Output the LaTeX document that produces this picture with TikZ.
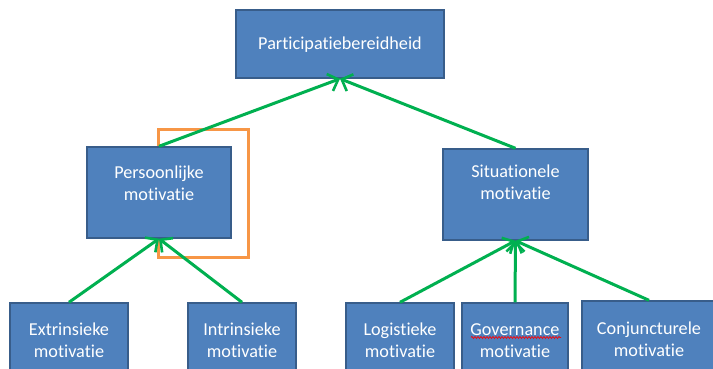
\documentclass[tikz,border=0pt]{standalone}
\usepackage{fontspec}
\setmainfont{Carlito}[Ligatures=NoCommon]
\usetikzlibrary{arrows.meta,decorations.pathmorphing}
\definecolor{boxfill}{HTML}{4F81BD}
\definecolor{boxline}{HTML}{385D8A}
\definecolor{arrowgreen}{HTML}{00B050}
\definecolor{frameorange}{HTML}{F79646}
\tikzset{
  box/.style={draw=boxline, line width=1.4pt, fill=boxfill, inner sep=0pt, rectangle},
  lbl/.style={text=white, align=center, inner sep=0pt, font=\fontsize{18.2}{22}\selectfont},
  garrow/.style={draw=arrowgreen, line width=3pt, -{Straight Barb[length=9pt,width=18pt,line width=2.6pt]}},
  oframe/.style={draw=frameorange, line width=3pt},
  spell/.style={draw=red, line width=0.7pt, decorate, decoration={snake, amplitude=1pt, segment length=3pt}}
}
\begin{document}
\begin{tikzpicture}[x=1pt,y=-1pt]
\useasboundingbox (0,0) rectangle (713,369);
\fill[white] (0,0) rectangle (713,369);
% orange frame behind
\coordinate (of1) at (158,130);
\coordinate (of2) at (248,257);
\draw[oframe] (of1) rectangle (of2);
% boxes
\node[box, minimum width=208pt, minimum height=68pt] (top) at (340,44) {};
\node[box, minimum width=144pt, minimum height=91pt] (pm) at (159,192.5) {};
\node[box, minimum width=145pt, minimum height=91pt] (sm) at (515.5,194.5) {};
\node[box, minimum width=118pt, minimum height=82pt] (ex) at (69,344) {};
\node[box, minimum width=108pt, minimum height=82pt] (in) at (242,344) {};
\node[box, minimum width=108pt, minimum height=82pt] (lo) at (400,344) {};
\node[box, minimum width=106pt, minimum height=82pt] (go) at (515,344) {};
\node[box, minimum width=134pt, minimum height=84pt] (co) at (649,343) {};
% labels
\node[lbl] (ttop) at (340,45) {Participatiebereidheid};
\node[lbl] (tpm) at (159,183) {Persoonlijke\\motivatie};
\node[lbl] (tsm) at (515.5,182.5) {Situationele\\motivatie};
\node[lbl] (tex) at (69,340.5) {Extrinsieke\\motivatie};
\node[lbl] (tin) at (242,340.5) {Intrinsieke\\motivatie};
\node[lbl] (tlo) at (400,340.5) {Logistieke\\motivatie};
\node[lbl] (tgo) at (515,340.5) {Governance\\motivatie};
\node[lbl] (tco) at (649,339.5) {Conjuncturele\\motivatie};
% spell-check underline
\coordinate (sp1) at (471,337.5);
\coordinate (sp2) at (561,337.5);
\draw[spell] (sp1) -- (sp2);
% arrows
\draw[garrow] (pm.north) -- (top.south);
\draw[garrow] (sm.north) -- (top.south);
\draw[garrow] (ex.north) -- (pm.south);
\draw[garrow] (in.north) -- (pm.south);
\draw[garrow] (lo.north) -- (sm.south);
\draw[garrow] (go.north) -- (sm.south);
\draw[garrow] (co.north) -- (sm.south);
\end{tikzpicture}
\end{document}
